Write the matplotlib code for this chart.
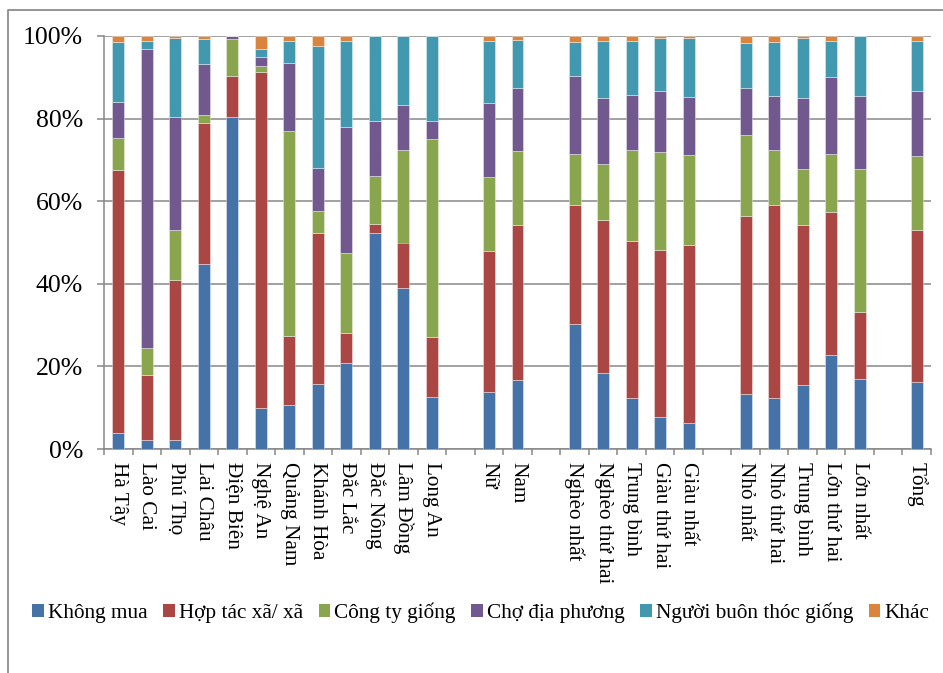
import numpy as np
import matplotlib
matplotlib.use("Agg")
import matplotlib.pyplot as plt
from matplotlib.patches import Patch
from matplotlib.lines import Line2D

plt.rcParams["font.family"] = ["Liberation Serif", "DejaVu Serif"]

# Category groups (one empty slot is left between groups)
provinces = ["Hà Tây", "Lào Cai", "Phú Thọ", "Lai Châu", "Điện Biên", "Nghệ An",
             "Quảng Nam", "Khánh Hòa", "Đắc Lắc", "Đắc Nông", "Lâm Đồng", "Long An"]
genders = ["Nữ", "Nam"]
wealth = ["Nghèo nhất", "Nghèo thứ hai", "Trung bình", "Giàu thứ hai", "Giàu nhất"]
farm_size = ["Nhỏ nhất", "Nhỏ thứ hai", "Trung bình", "Lớn thứ hai", "Lớn nhất"]
total = ["Tổng"]

# Shares (%) per category, same order as the groups above
khong_mua = [3.9, 2.2, 2.2, 44.8, 80.5, 9.9, 10.7, 15.8, 20.8, 52.4, 38.9, 12.5,
             13.7, 16.8,
             30.3, 18.4, 12.4, 7.8, 6.2,
             13.2, 12.4, 15.6, 22.8, 17.0,
             16.2]
hop_tac_xa = [63.6, 15.7, 38.7, 34.2, 9.8, 81.5, 16.7, 36.7, 7.3, 2.1, 11.1, 14.6,
              34.2, 37.4,
              28.7, 37.1, 38.0, 40.4, 43.1,
              43.2, 46.8, 38.7, 34.6, 16.1,
              36.8]
cong_ty = [7.7, 6.6, 12.2, 1.8, 8.9, 1.4, 49.6, 5.5, 19.4, 11.5, 22.3, 48.0,
           18.0, 17.9,
           12.5, 13.4, 21.9, 23.7, 21.8,
           19.6, 13.3, 13.5, 14.0, 34.8,
           18.0]
cho = [8.7, 72.3, 27.2, 12.3, 0.8, 2.0, 16.4, 10.5, 30.5, 13.5, 11.0, 4.3,
       17.9, 15.2,
       18.9, 16.0, 13.3, 14.8, 14.2,
       11.3, 13.0, 17.1, 18.7, 17.6,
       15.7]
nguoi_buon = [14.7, 2.1, 19.3, 6.1, 0.0, 2.0, 5.5, 29.5, 20.9, 20.5, 16.7, 20.6,
              15.0, 11.8,
              8.1, 14.0, 13.3, 12.7, 14.3,
              11.1, 13.1, 14.5, 8.8, 14.5,
              12.2]
khac = [1.4, 1.1, 0.4, 0.8, 0.0, 3.2, 1.1, 2.5, 1.1, 0.0, 0.0, 0.0,
        1.2, 0.9,
        1.5, 1.1, 1.1, 0.6, 0.4,
        1.6, 1.4, 0.6, 1.1, 0.0,
        1.1]

series_names = ["Không mua", "Hợp tác xã/ xã", "Công ty giống", "Chợ địa phương",
                "Người buôn thóc giống", "Khác"]
series_vals = [khong_mua, hop_tac_xa, cong_ty, cho, nguoi_buon, khac]
colors = ["#4572A7", "#AA4643", "#89A54E", "#71588F", "#4198AF", "#DB843D"]

# slot positions with a blank slot between groups
pos, labels = [], []
p = 0
for g in [provinces, genders, wealth, farm_size, total]:
    for lab in g:
        pos.append(p)
        labels.append(lab)
        p += 1
    p += 1
n_slots = p - 1
pos = np.array(pos)

data = np.array(series_vals, dtype=float)
data = data / data.sum(axis=0)  # 100% stacked

fig = plt.figure(figsize=(9.43, 6.73), dpi=100)
ax = fig.add_axes([104 / 943, 1 - 449 / 673, (931 - 104) / 943, (449 - 36) / 673])

bottom = np.zeros(len(pos))
for vals, name, col in zip(data, series_names, colors):
    ax.bar(pos, vals, width=0.42, bottom=bottom, color=col,
           edgecolor=(1, 1, 1, 0.45), linewidth=0.6, label=name, zorder=3)
    bottom += vals

grid_col = "#878787"
ax.set_xlim(-0.5, n_slots - 0.5)
ax.set_ylim(0, 1)
ax.set_yticks(np.arange(0, 1.01, 0.2))
ax.set_yticklabels(["0%", "20%", "40%", "60%", "80%", "100%"])
ax.yaxis.grid(True, color=grid_col, linewidth=1.1)
ax.set_axisbelow(True)
ax.tick_params(axis="y", length=5, width=1.1, color=grid_col, labelsize=18.5, pad=10)

ax.set_xticks(pos)
ax.set_xticklabels(labels, rotation=270, fontsize=15.3)
ax.set_xticks(np.arange(-0.5, n_slots, 1.0), minor=True)
ax.tick_params(axis="x", which="major", length=0, pad=9.5)
ax.tick_params(axis="x", which="minor", length=4.5, width=1.1, color=grid_col)

for s in ["top", "right"]:
    ax.spines[s].set_visible(False)
for s in ["left", "bottom"]:
    ax.spines[s].set_color(grid_col)
    ax.spines[s].set_linewidth(1.1)

handles = [Patch(facecolor=c, label=n) for c, n in zip(colors, series_names)]
leg = fig.legend(handles=handles, loc="center", bbox_to_anchor=(481 / 943, 1 - 613 / 673),
                 ncol=6, frameon=False, fontsize=15.3, handlelength=0.55, handleheight=0.55,
                 handletextpad=0.2, columnspacing=0.72, borderaxespad=0)

# chart area border (left and top edges visible)
fig.add_artist(Line2D([8 / 943, 8 / 943, 1.0], [0.0, 1 - 10 / 673, 1 - 10 / 673],
                      transform=fig.transFigure, color="#8c8c8c", linewidth=1.3))

fig.savefig("out.png", dpi=100)
